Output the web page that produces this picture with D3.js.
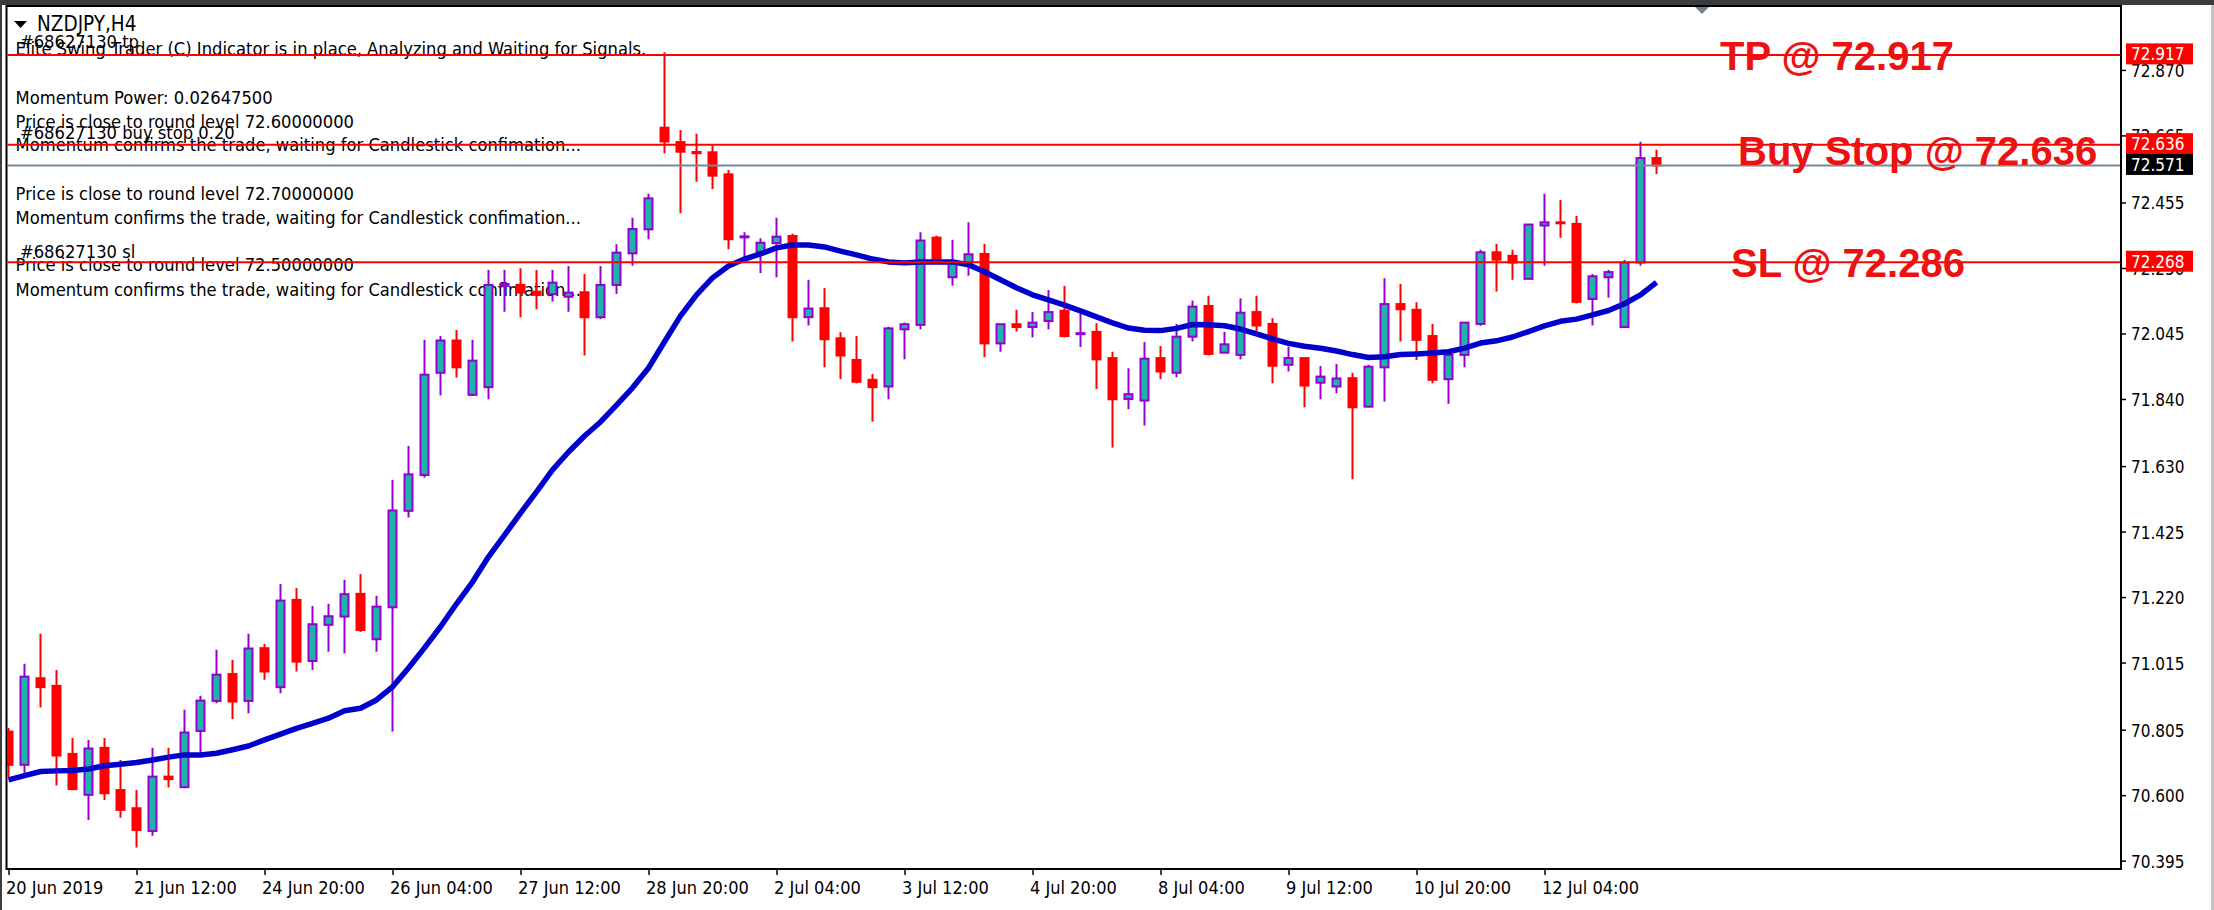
<!DOCTYPE html>
<html><head><meta charset="utf-8">
<script src="https://cdn.jsdelivr.net/npm/d3@7"></script>
<style>html,body{margin:0;padding:0;background:#fff;overflow:hidden}</style>
</head><body>
<svg id="c" width="2214" height="910"></svg>
<script>
// ---------------- DATA (NZDJPY, H4) ----------------
const symbolTitle = "NZDJPY,H4";
const open = [70.799,70.695,70.966,70.942,70.729,70.601,70.748,70.616,70.559,70.488,
70.658,70.625,70.801,70.895,70.979,70.895,71.060,70.938,71.211,71.020,
71.133,71.159,71.230,71.088,71.188,71.490,71.602,71.922,72.023,71.853,
71.877,72.194,72.197,72.176,72.168,72.160,72.174,72.096,72.197,72.296,
72.371,72.689,72.644,72.613,72.612,72.543,72.347,72.301,72.328,72.350,
72.096,72.124,72.030,71.962,71.900,71.879,72.058,72.072,72.345,72.221,
72.267,72.294,72.014,72.074,72.065,72.084,72.116,72.044,72.050,71.968,
71.840,71.835,71.968,71.922,72.035,72.131,71.985,71.978,72.112,72.075,
71.947,71.968,71.891,71.879,71.905,71.816,71.939,72.137,72.119,72.037,
71.902,71.978,72.075,72.299,72.288,72.216,72.383,72.393,72.388,72.153,
72.221,72.065,72.267,72.594];
const high = [70.810,71.011,71.105,70.992,70.779,70.773,70.779,70.710,70.616,70.748,
70.748,70.867,70.911,71.055,71.023,71.105,71.073,71.261,71.248,71.192,
71.199,71.274,71.292,71.224,71.587,71.693,72.025,72.037,72.056,72.025,
72.244,72.244,72.249,72.244,72.244,72.256,72.231,72.256,72.324,72.407,
72.482,72.925,72.682,72.670,72.633,72.557,72.362,72.343,72.407,72.357,
72.213,72.187,72.049,72.037,71.918,72.066,72.079,72.362,72.351,72.338,
72.393,72.325,72.074,72.119,72.112,72.181,72.194,72.108,72.077,71.988,
71.936,72.018,72.006,72.075,72.148,72.163,72.050,72.155,72.163,72.093,
72.004,71.968,71.943,71.949,71.922,71.947,72.218,72.200,72.143,72.075,
71.981,72.079,72.307,72.325,72.307,72.386,72.482,72.463,72.413,72.231,
72.244,72.275,72.645,72.620];
const low = [70.657,70.669,70.874,70.630,70.615,70.522,70.585,70.529,70.436,70.473,
70.624,70.622,70.731,70.888,70.838,70.856,70.961,70.919,70.987,70.992,
71.049,71.044,71.111,71.049,70.799,71.469,71.594,71.851,71.907,71.850,
71.839,72.113,72.096,72.121,72.145,72.113,71.976,72.090,72.169,72.257,
72.340,72.609,72.421,72.520,72.497,72.309,72.275,72.234,72.221,72.020,
72.070,71.939,71.902,71.889,71.769,71.839,71.964,72.058,72.268,72.195,
72.226,71.971,71.988,72.051,72.033,72.058,72.033,72.003,71.871,71.688,
71.808,71.757,71.902,71.908,72.020,71.976,71.985,71.964,72.051,71.889,
71.926,71.814,71.839,71.858,71.589,71.814,71.832,72.020,71.962,71.889,
71.825,71.939,72.069,72.176,72.213,72.216,72.257,72.345,72.139,72.070,
72.157,72.065,72.257,72.544];
const close = [70.695,70.971,70.938,70.724,70.619,70.746,70.606,70.554,70.491,70.658,
70.650,70.796,70.896,70.977,70.893,71.059,70.987,71.209,71.018,71.135,
71.160,71.229,71.117,71.190,71.491,71.604,71.916,72.023,71.939,71.960,
72.197,72.200,72.173,72.166,72.204,72.173,72.096,72.197,72.298,72.372,
72.468,72.646,72.614,72.609,72.539,72.340,72.349,72.329,72.348,72.096,
72.123,72.027,71.976,71.894,71.877,72.061,72.074,72.336,72.270,72.270,
72.293,72.014,72.074,72.065,72.079,72.112,72.037,72.046,71.964,71.839,
71.855,71.966,71.926,72.035,72.129,71.981,72.011,72.110,72.070,71.944,
71.968,71.882,71.910,71.904,71.814,71.941,72.137,72.121,72.025,71.900,
71.978,72.079,72.299,72.276,72.267,72.386,72.393,72.391,72.144,72.224,
72.237,72.267,72.594,72.571];
const movingAverage = [70.648,70.661,70.674,70.676,70.677,70.682,70.692,70.697,70.702,70.710,
70.719,70.726,70.726,70.731,70.742,70.754,70.773,70.791,70.809,70.825,
70.841,70.864,70.872,70.898,70.939,70.998,71.061,71.127,71.199,71.267,
71.346,71.414,71.483,71.549,71.618,71.674,71.724,71.768,71.821,71.875,
71.937,72.019,72.100,72.166,72.219,72.256,72.278,72.294,72.313,72.322,
72.322,72.316,72.303,72.291,72.278,72.269,72.266,72.269,72.269,72.269,
72.260,72.238,72.213,72.188,72.166,72.150,72.134,72.116,72.097,72.078,
72.062,72.055,72.054,72.061,72.073,72.072,72.069,72.059,72.044,72.028,
72.014,72.005,71.999,71.990,71.979,71.970,71.972,71.979,71.981,71.984,
71.988,71.999,72.015,72.022,72.034,72.051,72.069,72.083,72.090,72.103,
72.117,72.138,72.166,72.205];

const timeTickLabels = ["20 Jun 2019","21 Jun 12:00","24 Jun 20:00","26 Jun 04:00","27 Jun 12:00",
  "28 Jun 20:00","2 Jul 04:00","3 Jul 12:00","4 Jul 20:00","8 Jul 04:00","9 Jul 12:00",
  "10 Jul 20:00","12 Jul 04:00"];
const timeTickBars = [0,8,16,24,32,40,48,56,64,72,80,88,96];
const priceTicks = [72.870,72.665,72.455,72.250,72.045,71.840,71.630,71.425,71.220,71.015,70.805,70.600,70.395];

const levelValues = [72.917, 72.636, 72.268];
const levelTexts  = ["TP @ 72.917", "Buy Stop @ 72.636", "SL @ 72.286"];
const bidPrice = 72.571;

const infoLines = [
  "#68627130 tp",
  "Elite Swing Trader (C) Indicator is in place, Analyzing and Waiting for Signals.",
  "Momentum Power: 0.02647500",
  "Price is close to round level 72.60000000",
  "#68627130 buy stop 0.20",
  "Momentum confirms the trade, waiting for Candlestick confimation...",
  "Price is close to round level 72.70000000",
  "Momentum confirms the trade, waiting for Candlestick confimation...",
  "#68627130 sl",
  "Price is close to round level 72.50000000",
  "Momentum confirms the trade, waiting for Candlestick confimation..."
];

// ---------------- LAYOUT ----------------
const W = 2214, H = 910;
const L = 6.5, T = 6, R = 2121, B = 869;
const N = close.length;
const barStep = 16, firstBarX = 8.5;
const infoX = [20,15.6,15.6,15.6,20,15.6,15.6,15.6,20,15.6,15.6];
const infoY = [47.5,55,104,127.5,138.5,151,200,224,258,271,296];
const levelTextX = [1720, 1738, 1731];
const levelTextDy = [15, 20, 15];

const svg = d3.select("#c");
const x = d3.scaleLinear().domain([0, N - 1]).range([firstBarX, firstBarX + (N - 1) * barStep]);
const y = d3.scaleLinear().domain([70.372, 73.070]).range([868, 6]);

const FONT = "'DejaVu Sans Condensed','DejaVu Sans',sans-serif";

svg.append("rect").attr("width", W).attr("height", H).attr("fill", "#fff");

// window frame bits
svg.append("rect").attr("x",0).attr("y",0).attr("width",W).attr("height",5).attr("fill","#3c3c3c");
svg.append("rect").attr("x",0).attr("y",0).attr("width",2).attr("height",H).attr("fill","#3c3c3c");
svg.append("rect").attr("x",W-3).attr("y",5).attr("width",3).attr("height",H-5).attr("fill","#c4c4c4");

svg.append("defs").append("clipPath").attr("id","plotClip")
  .append("rect").attr("x",L+1).attr("y",T+1).attr("width",R-L-2).attr("height",B-T-2);

const plot = svg.append("g").attr("clip-path","url(#plotClip)");

// info text block
plot.append("path").attr("d","M14,21 L27,21 L20.5,28 Z").attr("fill","#000");
plot.append("text").attr("x",37).attr("y",30.5).attr("font-family",FONT).attr("font-size",20.5)
  .attr("fill","#000").text(symbolTitle);
plot.selectAll("text.info").data(infoLines).join("text").attr("class","info")
  .attr("x",(d,i)=>infoX[i]).attr("y",(d,i)=>infoY[i])
  .attr("font-family",FONT).attr("font-size",18.2).attr("fill","#000").text(d=>d);

// candles
const bars = d3.range(N).map(i => ({i, o: open[i], h: high[i], l: low[i], c: close[i]}));
const UP_FILL = "#20B2AA", UP_LINE = "#9400D3", DN = "#FF0000";
const bodyW = 8;
const cg = plot.append("g");
const cand = cg.selectAll("g.c").data(bars).join("g").attr("class","c");
cand.append("line")
  .attr("x1", d => x(d.i)).attr("x2", d => x(d.i))
  .attr("y1", d => y(d.h)).attr("y2", d => y(d.l))
  .attr("stroke", d => d.c >= d.o ? UP_LINE : DN).attr("stroke-width", 2);
cand.append("rect")
  .attr("x", d => x(d.i) - bodyW/2)
  .attr("y", d => Math.min(y(d.o), y(d.c)))
  .attr("width", bodyW)
  .attr("height", d => Math.max(1, Math.abs(y(d.o) - y(d.c))))
  .attr("fill", d => d.c >= d.o ? UP_FILL : DN)
  .attr("stroke", d => d.c >= d.o ? UP_LINE : DN)
  .attr("stroke-width", 2);

// moving average
const maLine = d3.line().x((d,i)=>x(i)).y(d=>y(d));
plot.append("path").datum(movingAverage).attr("d", maLine)
  .attr("fill","none").attr("stroke","#0000CD").attr("stroke-width",5.5)
  .attr("stroke-linejoin","round");

// bid line
plot.append("line").attr("x1",L).attr("x2",R).attr("y1",y(bidPrice)).attr("y2",y(bidPrice))
  .attr("stroke","#778899").attr("stroke-width",2);
// order levels
plot.selectAll("line.lvl").data(levelValues).join("line").attr("class","lvl")
  .attr("x1",L).attr("x2",R).attr("y1",d=>y(d)).attr("y2",d=>y(d))
  .attr("stroke","#FF0000").attr("stroke-width",2);
plot.selectAll("text.lvl").data(levelTexts).join("text").attr("class","lvl")
  .attr("x",(d,i)=>levelTextX[i]).attr("y",(d,i)=>y(levelValues[i]) + levelTextDy[i])
  .attr("font-family","'Liberation Sans',Arial,sans-serif").attr("font-weight","bold")
  .attr("font-size",40).attr("fill","#EE1111").text(d=>d);

// chart-shift marker
svg.append("path").attr("d","M1694,6 L1710,6 L1702,14 Z").attr("fill","#708090");

// frame
svg.append("rect").attr("x",L).attr("y",T).attr("width",R-L).attr("height",B-T)
  .attr("fill","none").attr("stroke","#000").attr("stroke-width",2);

// right price axis
const yAxis = d3.axisRight(y).tickValues(priceTicks).tickFormat(d3.format(".3f")).tickSize(5).tickPadding(5);
const ya = svg.append("g").attr("transform",`translate(${R},0)`).call(yAxis);
ya.select(".domain").remove();
ya.selectAll(".tick line").attr("stroke","#000").attr("stroke-width",1.5);
ya.selectAll(".tick text").attr("font-family",FONT).attr("font-size",17).attr("fill","#000")
  .attr("dy","0.38em");

// price boxes
const boxVals = levelValues.concat([bidPrice]);
const boxCols = ["#FF0000","#FF0000","#FF0000","#000000"];
const bx = svg.append("g");
bx.selectAll("rect").data(boxVals).join("rect")
  .attr("x",R+5).attr("y",d=>y(d)-11.5).attr("width",67).attr("height",21)
  .attr("fill",(d,i)=>boxCols[i]);
bx.selectAll("text").data(boxVals).join("text")
  .attr("x",R+10).attr("y",d=>y(d)-1).attr("dy","0.38em")
  .attr("font-family",FONT).attr("font-size",17).attr("fill","#fff")
  .text(d=>d3.format(".3f")(d));

// bottom time axis
const xAxis = d3.axisBottom(x).tickValues(timeTickBars).tickFormat((d,i)=>timeTickLabels[i]).tickSize(6);
const xa = svg.append("g").attr("transform",`translate(0,${B})`).call(xAxis);
xa.select(".domain").remove();
xa.selectAll(".tick line").attr("stroke","#000").attr("stroke-width",1.5);
xa.selectAll(".tick text").attr("font-family",FONT).attr("font-size",18).attr("fill","#000")
  .attr("text-anchor","start").attr("x",-3).attr("y",25).attr("dy",0);
</script>
</body></html>
